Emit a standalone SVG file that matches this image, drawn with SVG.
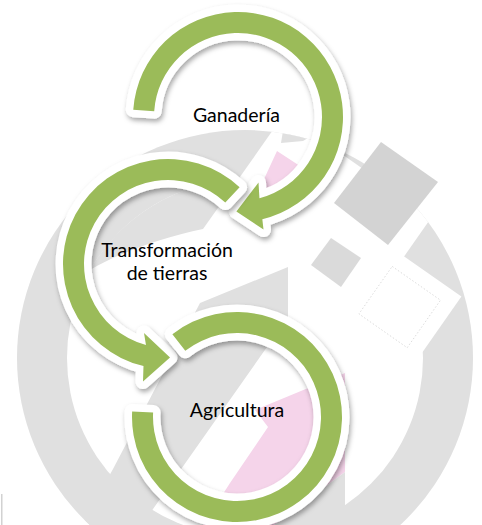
<svg xmlns="http://www.w3.org/2000/svg" xmlns:xlink="http://www.w3.org/1999/xlink" width="482" height="525" viewBox="0 0 482 525">
  <style>
    .ring { fill: #e0e0e0; }
    .paper { fill: #ffffff; }
    .tile-dark { fill: #d3d3d3; }
    .tile-light { fill: #dadada; }
    .blush { fill: #f5d4ea; }
    .lace { fill: none; stroke: #cdcdcd; stroke-width: 1; stroke-dasharray: 1.5 2; opacity: 0.7; }
    .rim { fill: #ffffff; stroke: #ffffff; stroke-width: 15; stroke-linejoin: round; filter: url(#shadow); }
    .band { fill: #9bbb59; }
    .label { font-family: Lato, "Open Sans", "Liberation Sans", sans-serif; font-size: 19.5px; fill: #000000; text-anchor: middle; }
  </style>
  <defs>
    <clipPath id="disk">
      <circle cx="245" cy="358" r="228"/>
    </clipPath>
    <filter id="shadow" x="-20%" y="-20%" width="140%" height="140%">
      <feDropShadow dx="1.5" dy="3" stdDeviation="2.5" flood-color="#000000" flood-opacity="0.35"/>
    </filter>
    <!-- circular arrow outlines: outer arc, head, inner arc -->
    <path id="arrow-top" d="M133.26,109.68 A105,105 0 1 1 262.33,219.14 L263.5,229.5 L236.4,211.5 L258.5,182.5 L259.45,198.21 A84,84 0 1 0 154.2,111.14 Z"/>
    <path id="arrow-mid" d="M239.61,187.21 A105,105 0 1 0 143.49,366.1 L143,381.5 L170,357.5 L144,333 L145.98,345.06 A84,84 0 1 1 225.29,202.56 Z"/>
    <path id="arrow-low" d="M132.14,411.5 A105,105 0 1 0 172.36,334.26 L185.28,350.81 A84,84 0 1 1 153.12,412.6 Z"/>
  </defs>

  <rect width="482" height="525" fill="#ffffff"/>

  <!-- background emblem -->
  <g id="emblem">
    <circle class="ring" cx="245" cy="358" r="228"/>
    <circle class="paper" cx="245" cy="358" r="178"/>
    <g clip-path="url(#disk)">
      <!-- diagonal light stripe through the top of the ring -->
      <polygon class="paper" points="284.3,113.8 431.7,217.1 397.4,266 237.8,180.1"/>
      <polygon class="ring" points="284,125 330,125 303,141 281,143"/>
      <polygon class="blush" points="277,151 303,168 286,202 259,190"/>
    </g>
    <!-- upper inner field -->
    <path class="ring" d="M90,270 C120,252 165,237 203,229 L237.8,180.1 A178,178 0 0 0 90,270 Z"/>
    <g clip-path="url(#disk)">
      <!-- diagonal grey band -->
      <polygon class="ring" points="288,267 200,303 113,469 40,600 89,600 267,347 288,358"/>
      <!-- pink band with notch -->
      <polygon class="blush" points="313,386 255,410 268,427 230,483 203,525 274,525 345,472 345,373"/>
      <polygon class="ring" points="345,472 345,525 274,525"/>
      <!-- framed tile cutting the right side of the ring -->
      <polygon class="paper" points="397.5,251.8 461.4,296.6 408.6,371.9 344.7,327.1"/>
    </g>
    <polygon class="lace" points="392.2,266.4 440.5,300.2 407.2,347.7 358.9,313.9"/>
    <polygon class="tile-dark" points="381,142 438,182 388,245 334,203"/>
    <polygon class="tile-light" points="331,238 361,258 341,287 311,265"/>
    <rect x="1" y="494" width="1.5" height="31" fill="#d2d2d2"/>
  </g>

  <g id="connectors"/>

  <!-- process steps -->
  <g id="node-ganaderia">
    <use xlink:href="#arrow-top" class="rim"/>
    <use xlink:href="#arrow-top" class="band"/>
  </g>
  <g id="node-transformacion">
    <use xlink:href="#arrow-mid" class="rim"/>
    <use xlink:href="#arrow-mid" class="band"/>
  </g>
  <g id="node-agricultura">
    <use xlink:href="#arrow-low" class="rim"/>
    <use xlink:href="#arrow-low" class="band"/>
  </g>

  <g id="labels">
    <text class="label" x="236.5" y="122">Ganadería</text>
    <text class="label"><tspan x="167" y="257">Transformación</tspan><tspan x="167" y="280">de tierras</tspan></text>
    <text class="label" x="237" y="417">Agricultura</text>
  </g>
</svg>
